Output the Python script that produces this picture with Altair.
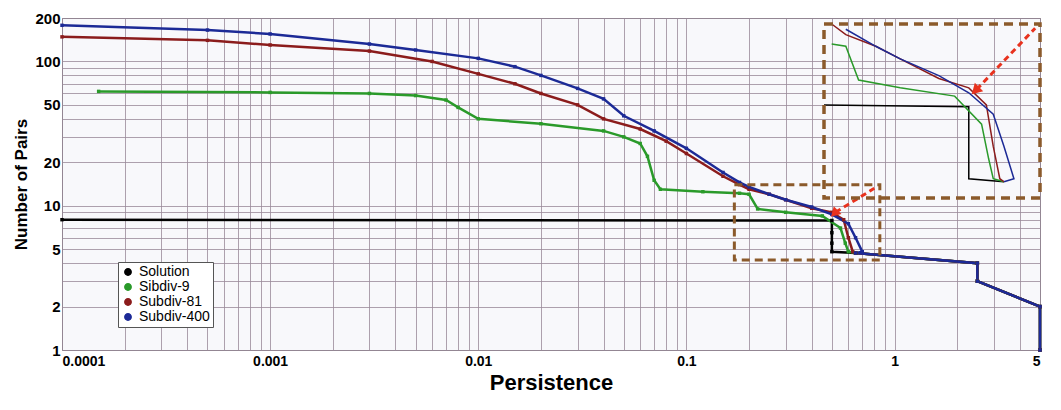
import altair as alt
import pandas as pd

series = ["Solution", "Sibdiv-9", "Subdiv-81", "Subdiv-400"]
colors = ["#000000", "#2a9a2a", "#8b1c1c", "#1c2a96"]
tail_x = [0.65, 2.5, 2.5, 5.0, 5.0]
tail_y = [4.7, 4.0, 3.0, 2.0, 1.0]
sol_x = [0.0001, 0.5, 0.5, 0.5, 0.5] + tail_x
sol_y = [8.0, 7.9, 6.5, 5.5, 4.8] + tail_y
s9_x = [0.00015, 0.001, 0.003, 0.005, 0.007, 0.008, 0.01, 0.02, 0.04, 0.05, 0.06, 0.065, 0.07, 0.075, 0.12, 0.18, 0.2, 0.22, 0.3, 0.45, 0.55, 0.58, 0.6] + tail_x
s9_y = [62, 61, 60, 58, 54, 48, 40, 37, 33, 30, 27, 22, 15, 13, 12.5, 12.2, 12, 9.5, 9, 8.5, 7, 5.5, 4.8] + tail_y
s81_x = [0.0001, 0.0005, 0.001, 0.003, 0.006, 0.01, 0.015, 0.02, 0.03, 0.04, 0.06, 0.08, 0.1, 0.15, 0.18, 0.2, 0.25, 0.3, 0.4, 0.5, 0.57, 0.6, 0.63] + tail_x
s81_y = [148, 140, 130, 118, 100, 82, 70, 60, 50, 40, 34, 28, 23, 16, 14, 13, 12, 11, 9.6, 9, 8, 6, 4.8] + tail_y
s400_x = [0.0001, 0.0005, 0.001, 0.003, 0.005, 0.01, 0.015, 0.02, 0.03, 0.04, 0.05, 0.07, 0.1, 0.15, 0.18, 0.2, 0.25, 0.3, 0.4, 0.5, 0.6, 0.65, 0.7] + tail_x
s400_y = [178, 165, 155, 132, 120, 105, 92, 80, 65, 55, 42, 33, 25, 17, 14.5, 13.5, 12, 11, 9.8, 8.7, 7.5, 6, 4.8] + tail_y

rows = []
for name, xs, ys in zip(series, [sol_x, s9_x, s81_x, s400_x], [sol_y, s9_y, s81_y, s400_y]):
    for i, (a, b) in enumerate(zip(xs, ys)):
        rows.append({"series": name, "p": a, "n": b, "i": i})
df = pd.DataFrame(rows)

grid_x = [m * 10 ** e for e in range(-4, 1) for m in range(1, 10)] + [2, 3, 4, 5]
grid_y = [1, 2, 3, 4, 5, 6, 7, 8, 9, 10, 20, 30, 40, 50, 60, 70, 80, 90, 100, 200]

W, H = 978, 332
color = alt.Color("series:N", scale=alt.Scale(domain=series, range=colors),
                  legend=alt.Legend(title=None, orient="none", legendX=56, legendY=244,
                                    symbolType="circle", symbolSize=40, labelFontSize=14,
                                    labelFont="Liberation Sans", labelColor="black",
                                    strokeColor="#555", padding=3, fillColor="white",
                                    rowPadding=1))

xs = alt.Scale(type="log", domain=[0.0001, 5], nice=False)
ys = alt.Scale(type="log", domain=[1, 200], nice=False)
xax = alt.Axis(values=grid_x, title="Persistence", titleFontSize=22, labelFontSize=14,
               labelFontWeight="bold", titleFont="Liberation Sans",
               labelExpr="indexof([0.0001,0.001,0.01,0.1,1,5], datum.value) >= 0 ? datum.value + '' : ''",
               gridColor="#9a8a9a", gridOpacity=0.8, tickSize=0, labelPadding=4, domain=False)
yax = alt.Axis(values=grid_y, title="Number of Pairs", titleFontSize=17, labelFontSize=15,
               labelFontWeight="bold", titleFont="Liberation Sans",
               labelExpr="indexof([1,2,5,10,20,50,100,200], datum.value) >= 0 ? datum.value + '' : ''",
               gridColor="#9a8a9a", gridOpacity=0.8, tickSize=0, domain=False)

main = alt.Chart(df).mark_line(point=alt.OverlayMarkDef(size=12, shape="square"), strokeWidth=2.5).encode(
    x=alt.X("p:Q", scale=xs, axis=xax),
    y=alt.Y("n:Q", scale=ys, axis=yax),
    color=color, order="i:Q")

box = pd.DataFrame([{"x": 0.17, "x2": 0.85, "y": 4.2, "y2": 14}])
small_box = alt.Chart(box).mark_rect(fill=None, stroke="#8b5a2b", strokeWidth=3, strokeDash=[8, 5]).encode(
    x=alt.X("x:Q", scale=xs), x2="x2", y=alt.Y("y:Q", scale=ys), y2="y2")
arr = pd.DataFrame([{"p": 0.8, "n": 13.2}, {"p": 0.52, "n": 9.0}])
arrow1 = alt.Chart(arr).mark_line(color="#e8321e", strokeWidth=3, strokeDash=[6, 4]).encode(
    x=alt.X("p:Q", scale=xs), y=alt.Y("n:Q", scale=ys))
head1 = alt.Chart(arr.iloc[[1]]).mark_point(shape="triangle", filled=True, color="#e8321e", size=120, angle=225, opacity=1).encode(
    x=alt.X("p:Q", scale=xs), y=alt.Y("n:Q", scale=ys))
base = alt.layer(main, small_box, arrow1, head1)

# inset
ixs = alt.Scale(type="log", domain=[0.17, 0.85], nice=False, range=[762, 978])
iys = alt.Scale(type="log", domain=[4.2, 14], nice=False, range=[180, 6])
idf = df[(df.p >= 0.17) & (df.p <= 0.85) & (df.n >= 4.2) & (df.n <= 14)]
sol_left = pd.DataFrame([{"series": "Solution", "p": 0.17, "n": 8.0, "i": 0}])
idf = pd.concat([sol_left, idf[~((idf.series == "Solution") & (idf.i == 0))]])
inset = alt.Chart(idf).mark_line(strokeWidth=1.5).encode(
    x=alt.X("p:Q", scale=ixs, axis=None), y=alt.Y("n:Q", scale=iys, axis=None),
    color=alt.Color("series:N", scale=alt.Scale(domain=series, range=colors), legend=None), order="i:Q")
big_box = alt.Chart(box).mark_rect(fill=None, stroke="#8b5a2b", strokeWidth=3.5, strokeDash=[9, 6]).encode(
    x=alt.X("x:Q", scale=ixs, axis=None), x2="x2", y=alt.Y("y:Q", scale=iys, axis=None), y2="y2")
arr2 = pd.DataFrame([{"p": 0.82, "n": 13.6}, {"p": 0.53, "n": 8.9}])
arrow2 = alt.Chart(arr2).mark_line(color="#e8321e", strokeWidth=3, strokeDash=[6, 4]).encode(
    x=alt.X("p:Q", scale=ixs, axis=None), y=alt.Y("n:Q", scale=iys, axis=None))
head2 = alt.Chart(arr2.iloc[[1]]).mark_point(shape="triangle", filled=True, color="#e8321e", size=140, angle=225, opacity=1).encode(
    x=alt.X("p:Q", scale=ixs, axis=None), y=alt.Y("n:Q", scale=iys, axis=None))
ins = alt.layer(inset, big_box, arrow2, head2)

chart = alt.layer(base, ins).resolve_scale(x="independent", y="independent").properties(
    width=W, height=H, autosize=alt.AutoSizeParams(type="none"),
    padding={"left": 54, "top": 10, "right": 10, "bottom": 50}, background="white"
).configure_view(stroke="#777", fill="#f8f8fb")

chart.save("out.html", embed_options={"renderer": "svg", "actions": False})
